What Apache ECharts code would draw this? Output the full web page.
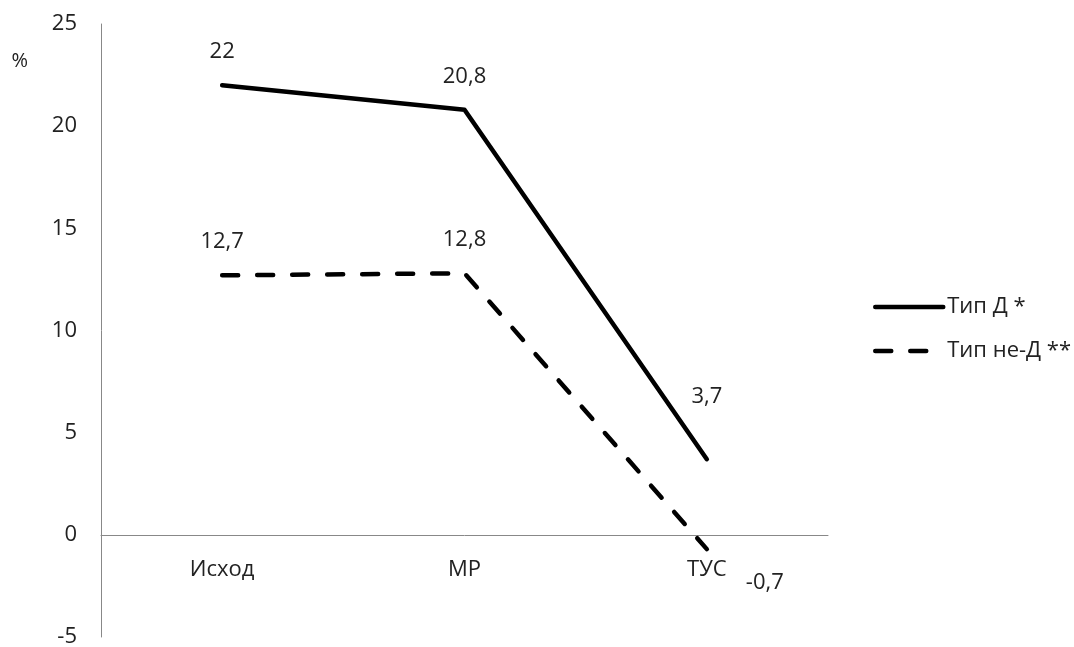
<!DOCTYPE html>
<html>
<head>
<meta charset="utf-8">
<script src="https://cdn.jsdelivr.net/npm/echarts@6/dist/echarts.min.js"></script>
<style>
  html, body { margin: 0; padding: 0; background: #fff; }
  #chart { width: 1074px; height: 647px; }
</style>
</head>
<body>
<div id="chart"></div>
<script>
// Stages of observation
const categories = ['Исход', 'МР', 'ТУС'];
// Share, %
const typeD = [22, 20.8, 3.7];
const typeNotD = [12.7, 12.8, -0.7];
const seriesNames = ['Тип Д *', 'Тип не-Д **'];
const yTicks = { min: -5, max: 25, interval: 5 };

const FONT = '"Open Sans", "Noto Sans", sans-serif';
const FS = 22;
const TXT = '#222';
const LW = 4.5;
const DASH = [16, 19];
const fmt = v => String(v).replace('.', ',');

// per-point label placement tweaks
const labD = [{}, {}, { offset: [0, -29] }];
const labN = [{}, {}, { position: 'bottom', offset: [58, 0] }];

function withLabels(values, labs) {
  return values.map((v, i) => ({ value: v, label: labs[i] }));
}

const labelBase = {
  show: true, position: 'top', distance: 22,
  fontFamily: FONT, fontSize: FS, color: TXT,
  formatter: p => fmt(p.value)
};

const GRID = { left: 101, right: 246, top: 24, bottom: 10 };
const CHART_H = 647;
// place the category axis on the zero line of the value axis
const plotH = CHART_H - GRID.top - GRID.bottom;
const zeroShift = -plotH * (0 - yTicks.min) / (yTicks.max - yTicks.min);

const chart = echarts.init(document.getElementById('chart'), null, { renderer: 'canvas' });
chart.setOption({
  animation: false,
  backgroundColor: '#ffffff',
  textStyle: { fontFamily: FONT },
  grid: Object.assign({ containLabel: false, outerBoundsMode: 'none' }, GRID),
  legend: {
    orient: 'vertical',
    left: 868,
    top: 291,
    itemWidth: 68,
    itemHeight: 26,
    itemGap: 22,
    itemStyle: { opacity: 0 },
    lineStyle: { width: LW, cap: 'round' },
    textStyle: { fontFamily: FONT, fontSize: FS, color: TXT, padding: [0, 0, 0, -1] },
    data: [
      { name: seriesNames[0] },
      { name: seriesNames[1], lineStyle: { width: LW, type: DASH, cap: 'round' } }
    ]
  },
  xAxis: {
    type: 'category',
    data: categories,
    boundaryGap: true,
    position: 'bottom',
    offset: zeroShift,
    axisLine: { onZero: false, lineStyle: { color: '#888', width: 1 } },
    axisTick: { show: false },
    axisLabel: { margin: 24, fontFamily: FONT, fontSize: FS, color: TXT },
    splitLine: { show: false }
  },
  yAxis: {
    type: 'value',
    min: yTicks.min,
    max: yTicks.max,
    interval: yTicks.interval,
    name: '%',
    nameLocation: 'end',
    nameGap: 0,
    nameTextStyle: {
      fontFamily: FONT, fontSize: 20, color: TXT,
      align: 'right', verticalAlign: 'top', padding: [27, 73, 0, 0]
    },
    axisLine: { show: true, lineStyle: { color: '#888', width: 1 } },
    axisTick: { show: false },
    axisLabel: { margin: 24, fontFamily: FONT, fontSize: FS, color: TXT },
    splitLine: { show: false }
  },
  series: [
    {
      name: seriesNames[0],
      type: 'line',
      data: withLabels(typeD, labD),
      symbol: 'circle',
      symbolSize: 1,
      lineStyle: { color: '#000', width: LW, type: 'solid', cap: 'round', join: 'round' },
      itemStyle: { color: 'rgba(0,0,0,0)' },
      label: labelBase
    },
    {
      name: seriesNames[1],
      type: 'line',
      data: withLabels(typeNotD, labN),
      symbol: 'circle',
      symbolSize: 1,
      lineStyle: { color: '#000', width: LW, type: DASH, cap: 'round', join: 'round' },
      itemStyle: { color: 'rgba(0,0,0,0)' },
      label: labelBase
    }
  ]
});
</script>
</body>
</html>
